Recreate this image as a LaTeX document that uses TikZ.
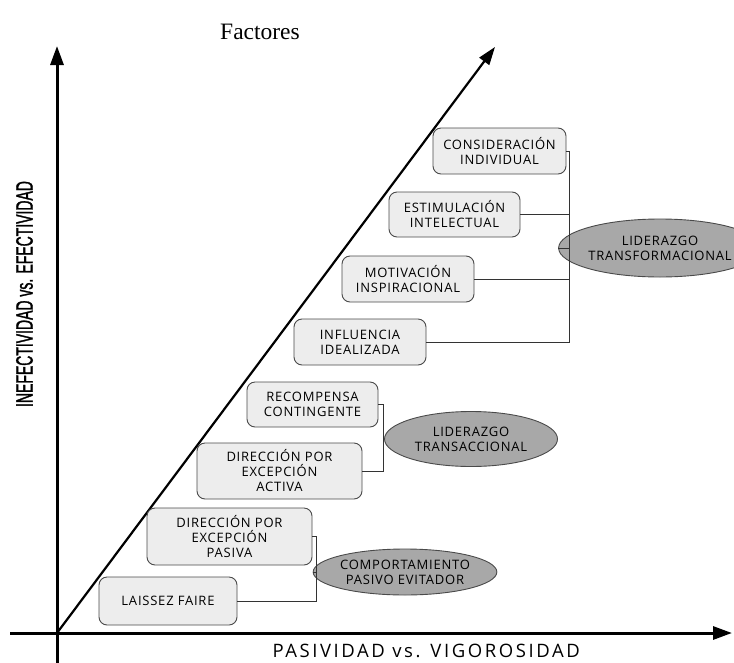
\documentclass[tikz,border=0pt]{standalone}
\usepackage{fontspec}
\usetikzlibrary{arrows.meta,shapes.geometric}
\setmainfont{Liberation Serif}
\newfontfamily\boxfont[LetterSpace=6]{Open Sans}
\newfontfamily\xfont[LetterSpace=14]{Open Sans}
\newfontfamily\axisfont[FakeStretch=0.59,FakeBold=1.2]{Liberation Sans}
\definecolor{boxfill}{HTML}{EDEDED}
\definecolor{ellfill}{HTML}{A8A8A8}
\definecolor{edge}{HTML}{4A4A4A}
\begin{document}
\begin{tikzpicture}[x=1pt,y=-1pt,
  factor/.style={draw=edge,fill=boxfill,rounded corners=8pt,line width=0.9pt,
    align=center,inner sep=0pt,font=\boxfont\fontsize{13}{15}\selectfont},
  group/.style={ellipse,draw=edge,fill=ellfill,line width=0.9pt,align=center,
    inner sep=0pt,font=\boxfont\fontsize{13}{15}\selectfont},
  link/.style={draw=black!80,line width=0.8pt},
  axis/.style={line width=3pt,-{Triangle[length=19pt,width=13pt]}},
  diag/.style={line width=2.2pt,-{Triangle[length=18pt,width=12pt]}}]
\useasboundingbox (0,0) rectangle (734,662);

% title
\node[anchor=base,font=\fontsize{23.5}{26}\selectfont] (title) at (260,39) {Factores};

% axes
\coordinate (o) at (57,633);
\coordinate (ytop) at (57,46);
\coordinate (ybot) at (57,664);
\coordinate (xl) at (10,633);
\coordinate (xr) at (732,633);
\coordinate (dtop) at (495,47);
\draw[axis] (ybot) -- (ytop);
\draw[axis] (xl) -- (xr);
\draw[diag] (o) -- (dtop);

\node[rotate=90,font=\axisfont\fontsize{23.7}{26}\selectfont] (ylab) at (24.5,294) {INEFECTIVIDAD vs. EFECTIVIDAD};
\node[anchor=base west,font=\xfont\fontsize{18.5}{20}\selectfont] (xlab) at (269,657) {PASIVIDAD vs. VIGOROSIDAD};

% transformational factors
\node[factor,minimum width=133pt,minimum height=46pt] (ci) at (499.5,151) {CONSIDERACIÓN\\INDIVIDUAL};
\node[factor,minimum width=131pt,minimum height=45pt] (ei) at (454.5,214.5) {ESTIMULACIÓN\\INTELECTUAL};
\node[factor,minimum width=132pt,minimum height=46pt] (mi) at (408,279) {MOTIVACIÓN\\INSPIRACIONAL};
\node[factor,minimum width=132pt,minimum height=46pt] (ii) at (360,342) {INFLUENCIA\\IDEALIZADA};
\node[group,minimum width=176pt,minimum height=58pt] (lt) at (660,248) {LIDERAZGO\\TRANSFORMACIONAL};
\coordinate (jt) at (569,248);
\draw[link] (ci.east) -| (jt);
\draw[link] (ei.east) -| (jt);
\draw[link] (mi.east) -| (jt);
\draw[link] (ii.east) -| (jt);
\draw[link] (jt) -- (lt.west);

% transactional factors
\node[factor,minimum width=131pt,minimum height=45pt] (rc) at (312.5,404.5) {RECOMPENSA\\CONTINGENTE};
\node[factor,minimum width=165pt,minimum height=56pt] (dpa) at (279.5,471) {DIRECCIÓN POR\\EXCEPCIÓN\\ACTIVA};
\node[group,minimum width=173pt,minimum height=55pt] (ltr) at (471,439) {LIDERAZGO\\TRANSACCIONAL};
\coordinate (jr) at (383,439);
\draw[link] (rc.east) -| (jr);
\draw[link] (dpa.east) -| (jr);
\draw[link] (jr) -- (ltr.west);

% passive-avoidant factors
\node[factor,minimum width=165pt,minimum height=57pt] (dpp) at (229.5,536.5) {DIRECCIÓN POR\\EXCEPCIÓN\\PASIVA};
\node[factor,minimum width=138pt,minimum height=48pt] (lf) at (168,601) {LAISSEZ FAIRE};
\node[group,minimum width=171pt,minimum height=46pt] (cpe) at (405,572) {COMPORTAMIENTO\\PASIVO EVITADOR};
\coordinate (jp) at (316,572);
\draw[link] (dpp.east) -| (jp);
\draw[link] (lf.east) -| (jp);
\draw[link] (jp) -- (cpe.west);
\end{tikzpicture}
\end{document}
